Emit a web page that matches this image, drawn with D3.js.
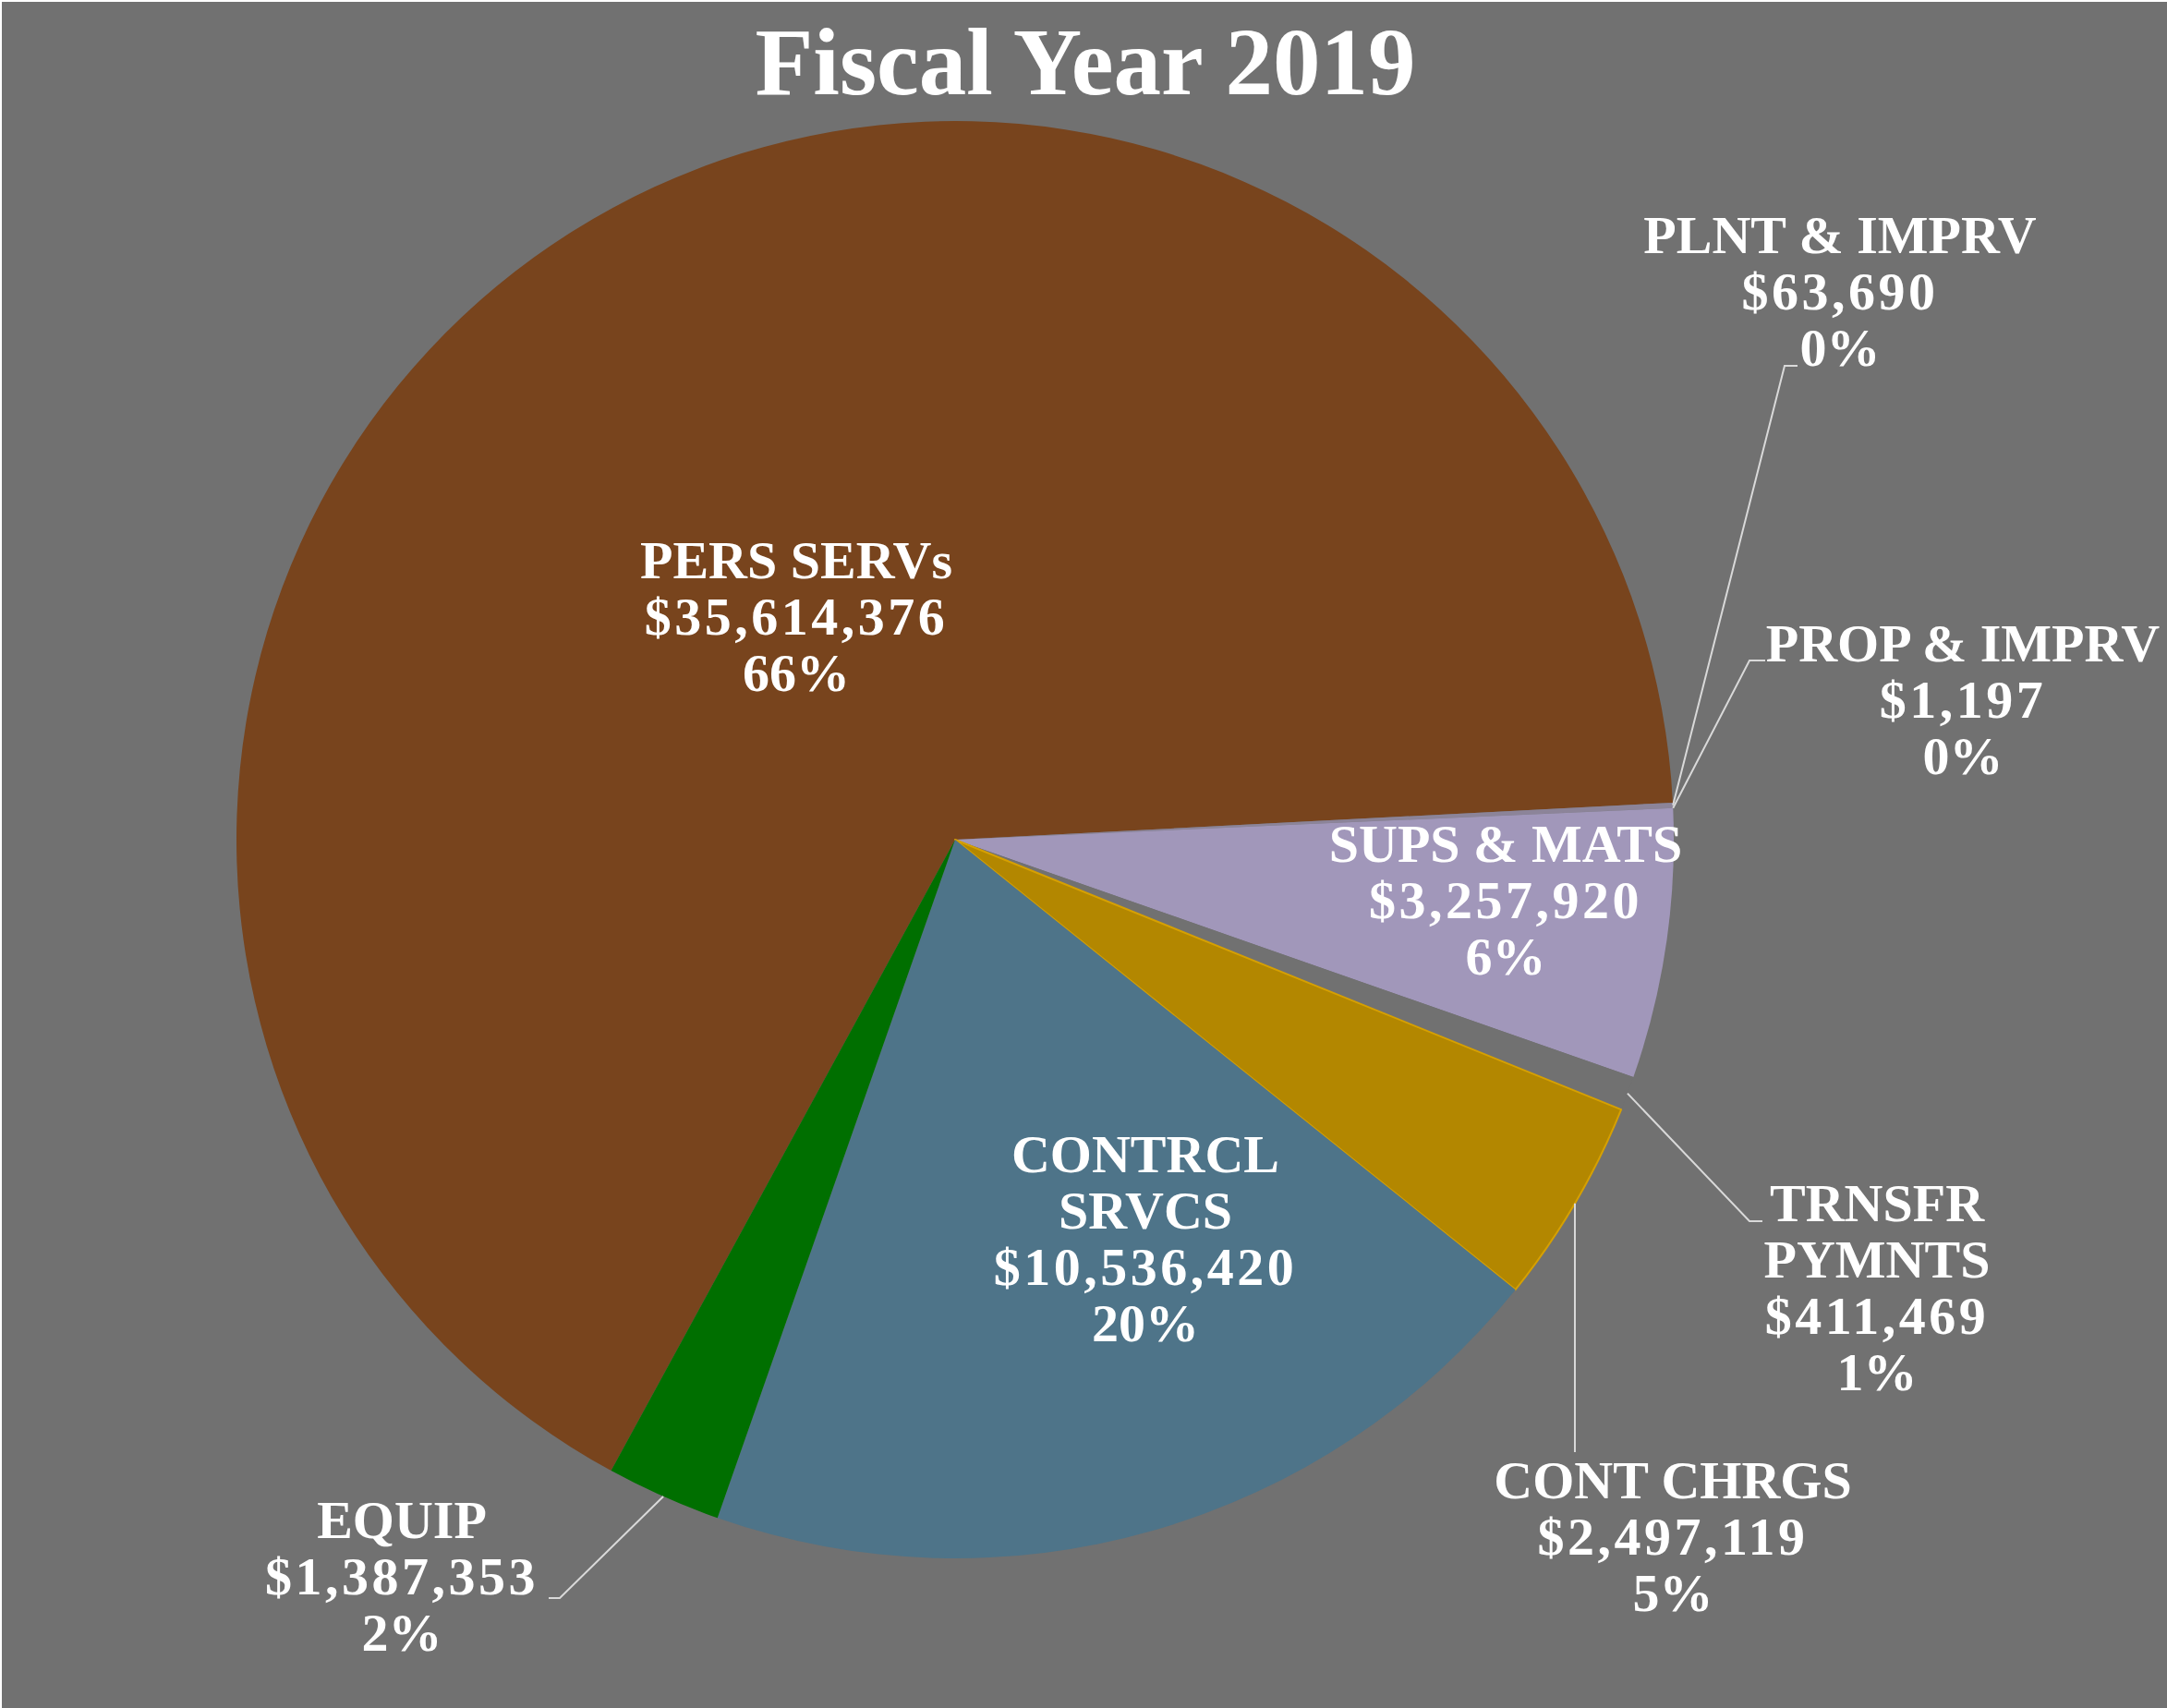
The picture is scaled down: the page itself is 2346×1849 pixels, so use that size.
<!DOCTYPE html>
<html>
<head>
<meta charset="utf-8">
<script src="https://cdn.jsdelivr.net/npm/d3@7"></script>
<style>
  html, body { margin: 0; padding: 0; background: #ffffff; }
  svg { display: block; }
</style>
</head>
<body>
<svg id="chart" width="2346" height="1849"></svg>
<script>
// Budget categories and amounts, listed clockwise from the large brown slice
const categories = ["PERS SERVs", "PLNT & IMPRV", "PROP & IMPRV", "SUPS & MATS",
                    "TRNSFR PYMNTS", "CONT CHRGS", "CONTRCL SRVCS", "EQUIP"];
const nameLines = [["PERS SERVs"], ["PLNT & IMPRV"], ["PROP & IMPRV"], ["SUPS & MATS"],
                   ["TRNSFR", "PYMNTS"], ["CONT CHRGS"], ["CONTRCL", "SRVCS"], ["EQUIP"]];
const amounts = [35614376, 63690, 1197, 3257920, 411469, 2497119, 10536420, 1387353];
const percentLabels = ["66%", "0%", "0%", "6%", "1%", "5%", "20%", "2%"];
const sliceColors = ["#78441d", "#8c8499", "#9a90b0", "#a197ba",
                     "#717171", "#b38700", "#4e7489", "#006f00"];

// Layout
const W = 2346, H = 1849;
const cx = 1034, cy = 909, R = 778;
const startDeg = 208.6;
const lineGap = 61;
// label anchor: centre x and first baseline; leader: bend points after the rim point
const labelLayout = [
  { x: 862,  y: 626 },
  { x: 1992, y: 274, leader: [[1932, 396], [1946, 396]] },
  { x: 2125, y: 716, leader: [[1894, 715], [1911, 715]] },
  { x: 1630, y: 933 },
  { x: 2032, y: 1322, leader: [[1894, 1322], [1908, 1322]] },
  { x: 1811, y: 1622, leader: [[null, 1572]] },
  { x: 1240, y: 1269 },
  { x: 435,  y: 1665, leader: [[606, 1730], [594, 1730]] }
];

const svg = d3.select("#chart");

// chart background
svg.append("rect")
  .attr("x", 2).attr("y", 2)
  .attr("width", W - 2).attr("height", H - 2)
  .attr("fill", "#717171");

// title
svg.append("text")
  .attr("x", 1175).attr("y", 102)
  .attr("text-anchor", "middle")
  .attr("font-family", "'Liberation Serif', 'DejaVu Serif', serif")
  .attr("font-weight", "bold")
  .attr("font-size", 103)
  .attr("fill", "#ffffff")
  .text("Fiscal Year 2019");

const data = categories.map((c, i) => ({
  name: c, lines: nameLines[i], value: amounts[i], pct: percentLabels[i],
  color: sliceColors[i], layout: labelLayout[i]
}));

const start = startDeg * Math.PI / 180;
const pie = d3.pie().sort(null).value(d => d.value)
  .startAngle(start).endAngle(start + 2 * Math.PI);
const arcs = pie(data);

const arc = d3.arc().innerRadius(0).outerRadius(R);
const rim = d3.arc().innerRadius(R).outerRadius(R);

const g = svg.append("g").attr("transform", `translate(${cx},${cy})`);

g.selectAll("path.slice")
  .data(arcs)
  .join("path")
  .attr("class", "slice")
  .attr("d", arc)
  .attr("fill", d => d.data.color)
  .attr("stroke", d => d.data.name === "CONT CHRGS" ? "#d6a000" : "none")
  .attr("stroke-width", 2)
  .attr("stroke-linejoin", "round");

// leader lines from the rim of small slices out to their labels
const leaderLine = d3.line();
arcs.forEach(d => {
  const lay = d.data.layout;
  if (!lay.leader) return;
  const [px, py] = rim.centroid(d);
  const p0 = [cx + px, cy + py];
  const pts = [p0].concat(lay.leader.map(p => [p[0] === null ? p0[0] : p[0], p[1]]));
  svg.append("path")
    .attr("d", leaderLine(pts))
    .attr("fill", "none")
    .attr("stroke", "#d9d9d9")
    .attr("stroke-width", 2);
});

// data labels: name, amount, percentage
const fmt = d3.format("$,");
arcs.forEach(d => {
  const lay = d.data.layout;
  const lines = d.data.lines.map(s => ({ s, spacing: 0 }))
    .concat([{ s: fmt(d.data.value), spacing: 3.5 }, { s: d.data.pct, spacing: 0 }]);
  const t = svg.append("text")
    .attr("text-anchor", "middle")
    .attr("font-family", "'Liberation Serif', 'DejaVu Serif', serif")
    .attr("font-weight", "bold")
    .attr("font-size", 58)
    .attr("fill", "#ffffff");
  lines.forEach((ln, k) => {
    t.append("tspan")
      .attr("x", lay.x)
      .attr("y", lay.y + k * lineGap)
      .attr("letter-spacing", ln.spacing)
      .text(ln.s);
  });
});
</script>
</body>
</html>
